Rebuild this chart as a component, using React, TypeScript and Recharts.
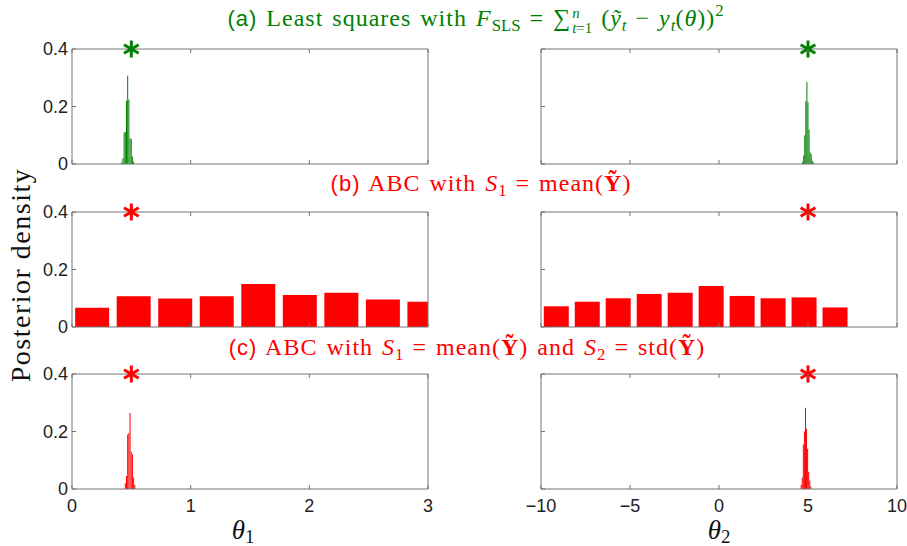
import { Bar, ComposedChart, Scatter, XAxis, YAxis } from 'recharts'

// tick values
const THETA1_TICKS = [0, 1, 2, 3]
const THETA2_TICKS = [-10, -5, 0, 5, 10]
const DENSITY_TICKS = [0, 0.2, 0.4]

// true parameter values (the asterisks)
const TRUE_THETA1 = 0.5
const TRUE_THETA2 = 5
const STAR_Y = 0.4

// (a) least squares
const LS_T1_BINS = [0.42, 0.43, 0.44, 0.45, 0.46, 0.47, 0.48, 0.49, 0.5, 0.51, 0.52]
const LS_T1_DENS = [0.006, 0.02, 0.11, 0.112, 0.22, 0.307, 0.224, 0.09, 0.088, 0.025, 0.008]
const LS_T2_BINS = [4.7, 4.76, 4.82, 4.88, 4.94, 5.0, 5.06, 5.12, 5.18, 5.24, 5.3]
const LS_T2_DENS = [0.008, 0.03, 0.1, 0.218, 0.285, 0.215, 0.12, 0.04, 0.035, 0.012, 0.005]

// (b) ABC, mean only
const ABC1_T1_BINS = [0.17, 0.52, 0.87, 1.22, 1.57, 1.92, 2.27, 2.62, 2.97]
const ABC1_T1_DENS = [0.067, 0.107, 0.099, 0.107, 0.15, 0.111, 0.119, 0.096, 0.088]
const ABC1_T2_BINS = [-9.13, -7.39, -5.65, -3.91, -2.17, -0.43, 1.31, 3.05, 4.79, 6.53]
const ABC1_T2_DENS = [0.072, 0.088, 0.1, 0.115, 0.119, 0.143, 0.108, 0.1, 0.103, 0.068]

// (c) ABC, mean and std
const ABC2_T1_BINS = [0.45, 0.46, 0.47, 0.48, 0.49, 0.5, 0.51, 0.52, 0.53]
const ABC2_T1_DENS = [0.02, 0.045, 0.19, 0.195, 0.264, 0.13, 0.12, 0.04, 0.015]
const ABC2_T2_BINS = [4.62, 4.68, 4.74, 4.8, 4.86, 4.92, 4.98, 5.04, 5.1, 5.16]
const ABC2_T2_DENS = [0.015, 0.04, 0.155, 0.2, 0.283, 0.21, 0.14, 0.06, 0.03, 0.01]

const GREEN = '#008000'
const RED = '#ff0000'
const AXIS = '#747474'
const SANS = '"Liberation Sans", Arial, sans-serif'
const SERIF = '"Liberation Serif", "Times New Roman", serif'

const PLOT_W = 356
const PLOT_H = 115
const Y_AXIS_W = 50
const M_TOP = 14
const M_SIDE = 24

const fmt = (v: number) => (v < 0 ? '\u2212' + Math.abs(v) : String(v))

function BottomTick({ x, y, payload, showLabel }: any) {
  return (
    <g>
      <line x1={x} y1={y} x2={x} y2={y - 4} stroke={AXIS} strokeWidth={1} />
      {showLabel && (
        <text x={x} y={y + 23} textAnchor="middle" fontSize={18} fontFamily={SANS} fill="#222">
          {fmt(payload.value)}
        </text>
      )}
    </g>
  )
}

function TopTick({ x, y }: any) {
  return <line x1={x} y1={y} x2={x} y2={y + 4} stroke={AXIS} strokeWidth={1} />
}

function LeftTick({ x, y, payload, showLabel }: any) {
  return (
    <g>
      <line x1={x} y1={y} x2={x + 4} y2={y} stroke={AXIS} strokeWidth={1} />
      {showLabel && (
        <text x={x - 4} y={y + 6} textAnchor="end" fontSize={18} fontFamily={SANS} fill="#222">
          {payload.value}
        </text>
      )}
    </g>
  )
}

function RightTick({ x, y }: any) {
  return <line x1={x} y1={y} x2={x - 4} y2={y} stroke={AXIS} strokeWidth={1} />
}

function Star({ cx, cy, color }: any) {
  const r = 8.5
  const dx = r * Math.cos(Math.PI / 6)
  const dy = r * Math.sin(Math.PI / 6)
  return (
    <g stroke={color} strokeWidth={3}>
      <line x1={cx} y1={cy - r} x2={cx} y2={cy + r} />
      <line x1={cx - dx} y1={cy - dy} x2={cx + dx} y2={cy + dy} />
      <line x1={cx - dx} y1={cy + dy} x2={cx + dx} y2={cy - dy} />
    </g>
  )
}

type PanelProps = {
  bins: number[]
  dens: number[]
  domain: [number, number]
  xTicks: number[]
  color: string
  truth: number
  gap: string
  yLabels: boolean
  xLabels: boolean
  left: number
  top: number
}

function Panel(p: PanelProps) {
  const data = p.bins.map((x, i) => ({ x, y: p.dens[i] }))
  const star = [{ x: p.truth, y: STAR_Y }]
  const ml = p.yLabels ? 0 : M_SIDE
  const yw = p.yLabels ? Y_AXIS_W : 1
  const xh = p.xLabels ? 30 : 1
  const mb = p.xLabels ? 0 : 10
  const axisLine = { stroke: AXIS, strokeWidth: 1 }
  return (
    <div style={{ position: 'absolute', left: p.left - ml - yw, top: p.top - M_TOP - 1 }}>
      <ComposedChart
        width={ml + yw + PLOT_W + 1 + M_SIDE}
        height={M_TOP + 1 + PLOT_H + xh + mb}
        data={data}
        margin={{ top: M_TOP, right: M_SIDE, bottom: mb, left: ml }}
        barCategoryGap={p.gap}
      >
        <XAxis xAxisId="b" dataKey="x" type="number" domain={p.domain} ticks={p.xTicks} interval={0}
          allowDataOverflow height={xh} axisLine={axisLine} tickLine={false} tickSize={0} tickMargin={0}
          tick={(t: any) => <BottomTick {...t} showLabel={p.xLabels} />} />
        <XAxis xAxisId="t" orientation="top" dataKey="x" type="number" domain={p.domain} ticks={p.xTicks}
          interval={0} height={1} axisLine={axisLine} tickLine={false} tickSize={0} tickMargin={0}
          tick={(t: any) => <TopTick {...t} />} />
        <YAxis yAxisId="l" type="number" domain={[0, 0.4]} ticks={DENSITY_TICKS} interval={0} width={yw}
          axisLine={axisLine} tickLine={false} tickSize={0} tickMargin={0}
          tick={(t: any) => <LeftTick {...t} showLabel={p.yLabels} />} />
        <YAxis yAxisId="r" orientation="right" type="number" domain={[0, 0.4]} ticks={DENSITY_TICKS} interval={0}
          width={1} axisLine={axisLine} tickLine={false} tickSize={0} tickMargin={0}
          tick={(t: any) => <RightTick {...t} />} />
        <Bar xAxisId="b" yAxisId="l" dataKey="y" fill={p.color} isAnimationActive={false} />
        <Scatter xAxisId="t" yAxisId="l" data={star} dataKey="y" isAnimationActive={false}
          shape={(s: any) => <Star {...s} color={p.color} />} />
      </ComposedChart>
    </div>
  )
}

// summation limits, set just right of the sigma
function Lims({ sup, sub }: { sup: string; sub: string }) {
  return (
    <span style={{ display: 'inline-flex', flexDirection: 'column', fontSize: '0.62em', lineHeight: '1.05em',
      verticalAlign: 'middle', marginLeft: 1, letterSpacing: 0, position: 'relative', top: 1 }}>
      <i>{sup}</i>
      <span><i>{sub[0]}</i>{sub.slice(1)}</span>
    </span>
  )
}

const titleStyle = (top: number, cx: number, color: string): any => ({
  position: 'absolute', top, left: cx, transform: 'translateX(-50%)', whiteSpace: 'nowrap',
  fontFamily: SERIF, fontSize: 24, lineHeight: '28px', letterSpacing: 1, wordSpacing: 2, color,
})
const subS: any = { fontSize: '0.7em', verticalAlign: '-0.3em', lineHeight: 0, letterSpacing: 0 }
const supS: any = { fontSize: '0.7em', verticalAlign: '0.6em', lineHeight: 0 }

const thetaStyle = (cx: number): any => ({
  position: 'absolute', left: cx, top: 517, lineHeight: '27px', transform: 'translateX(-50%)',
  fontFamily: SERIF, fontSize: 27, fontStyle: 'italic', color: '#111',
})

export default function App() {
  const L = 72
  const R = 541
  const rows = [49, 212, 374]
  return (
    <div style={{ position: 'fixed', left: 0, top: 0, width: 907, height: 546, background: '#fff', overflow: 'hidden' }}>
      <div style={titleStyle(4, 476, GREEN)}>
        <span style={{ fontFamily: SANS, fontSize: 22 }}>(a)</span> Least squares with <i>F</i><span style={subS}>SLS</span> = ∑
        <Lims sup="n" sub="t=1" /> (<i>ỹ</i><span style={subS}><i>t</i></span> − <i>y</i><span style={subS}><i>t</i></span>(<i>θ</i>))<span style={supS}>2</span>
      </div>
      <div style={titleStyle(169, 481, RED)}>
        <span style={{ fontFamily: SANS, fontSize: 22 }}>(b)</span> ABC with <i>S</i><span style={subS}>1</span> = mean(<b>Ỹ</b>)
      </div>
      <div style={titleStyle(333, 467, RED)}>
        <span style={{ fontFamily: SANS, fontSize: 22 }}>(c)</span> ABC with <i>S</i><span style={subS}>1</span> = mean(<b>Ỹ</b>) and <i>S</i>
        <span style={subS}>2</span> = std(<b>Ỹ</b>)
      </div>

      <Panel bins={LS_T1_BINS} dens={LS_T1_DENS} domain={[0, 3]} xTicks={THETA1_TICKS} color={GREEN} truth={TRUE_THETA1}
        gap="0%" yLabels xLabels={false} left={L} top={rows[0]} />
      <Panel bins={LS_T2_BINS} dens={LS_T2_DENS} domain={[-10, 10]} xTicks={THETA2_TICKS} color={GREEN} truth={TRUE_THETA2}
        gap="0%" yLabels={false} xLabels={false} left={R} top={rows[0]} />
      <Panel bins={ABC1_T1_BINS} dens={ABC1_T1_DENS} domain={[0, 3]} xTicks={THETA1_TICKS} color={RED} truth={TRUE_THETA1}
        gap="9%" yLabels xLabels={false} left={L} top={rows[1]} />
      <Panel bins={ABC1_T2_BINS} dens={ABC1_T2_DENS} domain={[-10, 10]} xTicks={THETA2_TICKS} color={RED} truth={TRUE_THETA2}
        gap="9%" yLabels={false} xLabels={false} left={R} top={rows[1]} />
      <Panel bins={ABC2_T1_BINS} dens={ABC2_T1_DENS} domain={[0, 3]} xTicks={THETA1_TICKS} color={RED} truth={TRUE_THETA1}
        gap="0%" yLabels xLabels left={L} top={rows[2]} />
      <Panel bins={ABC2_T2_BINS} dens={ABC2_T2_DENS} domain={[-10, 10]} xTicks={THETA2_TICKS} color={RED} truth={TRUE_THETA2}
        gap="0%" yLabels={false} xLabels left={R} top={rows[2]} />

      <div style={{ position: 'absolute', left: 21, top: 275, transform: 'translate(-50%, -50%) rotate(-90deg)',
        whiteSpace: 'nowrap', fontFamily: SERIF, fontSize: 28, letterSpacing: 1.5, color: '#111' }}>
        Posterior density
      </div>
      <div style={thetaStyle(243)}>
        θ<span style={{ ...subS, verticalAlign: '-0.2em', fontStyle: 'normal' }}>1</span>
      </div>
      <div style={thetaStyle(719)}>
        θ<span style={{ ...subS, verticalAlign: '-0.2em', fontStyle: 'normal' }}>2</span>
      </div>
    </div>
  )
}
